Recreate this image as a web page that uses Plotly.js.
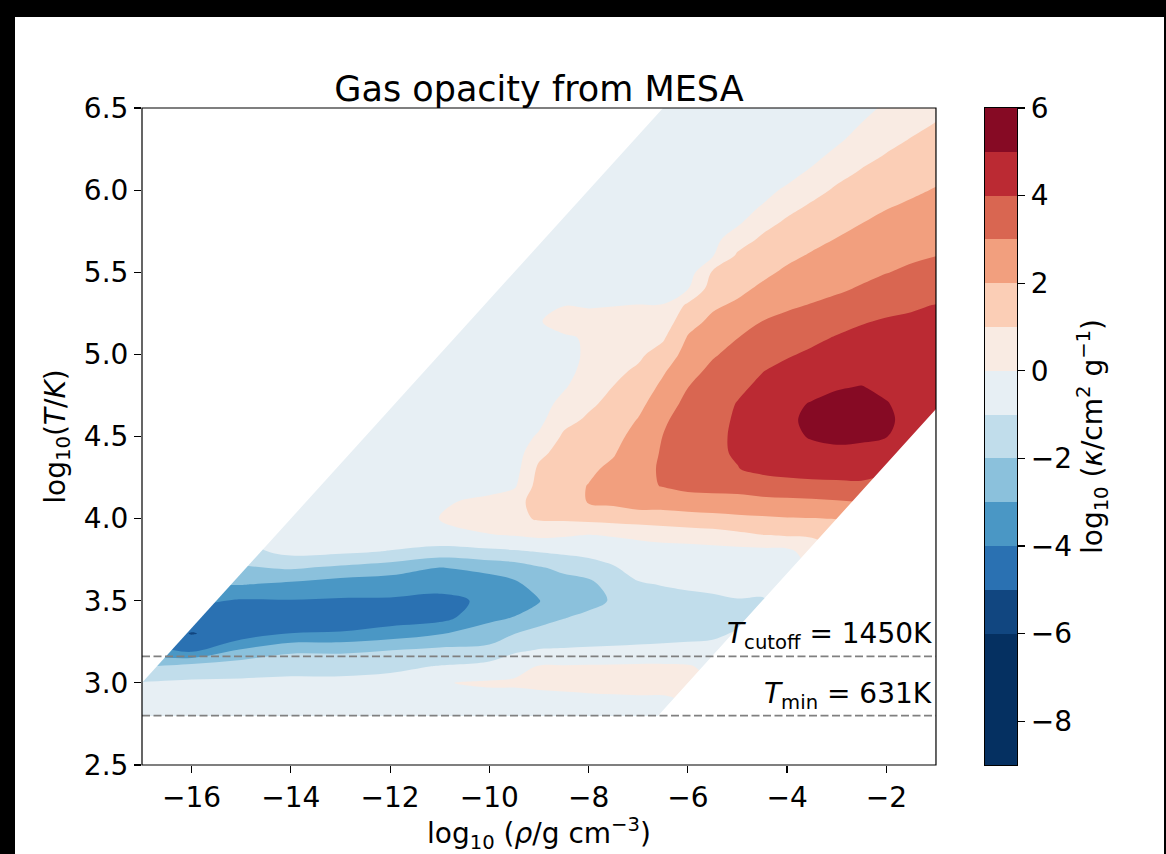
<!DOCTYPE html>
<html>
<head>
<meta charset="utf-8">
<script src="https://cdn.plot.ly/plotly-3.0.1.min.js"></script>
<style>
html,body{margin:0;padding:0;background:#000;width:1166px;height:854px;overflow:hidden;}
#plot{position:absolute;left:15px;top:17px;width:1149px;height:837px;background:#fff;}
</style>
</head>
<body>
<div id="plot"></div>
<script>
const gap = n => Array(n).fill(null);

// grid: log10(rho) columns and log10(T) rows
const LOG_RHO = [-17,-16,-15,-14,-13,-12,-11,-10,-9.5,-9,-8.5,-8,-7.5,-7,-6.5,-6,-5.5,-5,-4.5,-4,-3.5,-3,-2.5,-2,-1.5,-1];
const LOG_T = [2.8,2.9,3.0,3.1,3.2,3.3,3.4,3.5,3.6,3.7,3.8,3.9,4.0,4.1,4.2,4.3,4.4,4.5,4.6,4.7,
               4.8,4.9,5.0,5.1,5.2,5.3,5.4,5.5,5.6,5.7,5.8,5.9,6.0,6.1,6.2,6.3,6.4,6.5];

// log10(kappa) read along each log10(rho) column (bottom -> top), null = outside the table
const K_M17  = [-0.6,-0.7,-0.95, ...gap(35)];
const K_M16  = [-0.55,-0.65,-0.85,-1.6,-4.3,-5.05, ...gap(32)];
const K_M15  = [-0.5,-0.6,-0.85,-1.4,-2.9,-4.6,-4.7,-4.1,-2.95, ...gap(29)];
const K_M14  = [-0.5,-0.6,-0.8,-1.3,-2.2,-3.98,-4.6,-4.05,-3.2,-1.9,-0.7,-0.4,-0.3, ...gap(25)];
const K_M13  = [-0.5,-0.6,-0.8,-1.3,-2.2,-3.9,-4.7,-4.1,-3.5,-2.2,-0.8,-0.55,-0.5,-0.5,-0.5,-0.5, ...gap(22)];
const K_M12  = [-0.5,-0.55,-0.7,-1.2,-2.02,-3.5,-4.6,-4.1,-3.6,-2.5,-1.05,-0.4,-0.3,-0.35,-0.4,-0.45,-0.5,-0.5,-0.5, ...gap(19)];
const K_M11  = [-0.45,-0.4,-0.05,-0.95,-1.8,-3.05,-4.4,-4.3,-3.6,-3.05,-1.4,-0.2,0.02,-0.15,-0.3,-0.4,-0.45,-0.5,-0.5,-0.5,-0.5,-0.5,-0.5, ...gap(15)];
const K_M10  = [-0.4,-0.3,0.12,-0.7,-1.7,-2.6,-3.2,-3.8,-3.5,-2.7,-1.2,-0.05,0.55,0.3,-0.4,-0.5,-0.5,-0.5,-0.5,-0.5,-0.5,-0.5,-0.5,-0.5,-0.5,-0.5, ...gap(12)];
const K_M9_5 = [-0.38,-0.25,0.1,-0.25,-1.2,-2.02,-2.98,-3.35,-3.2,-2.5,-1.1,0.05,0.75,0.7,-0.15,-0.4,
                -0.5,-0.5,-0.5,-0.5,-0.5,-0.5,-0.5,-0.5,-0.5,-0.5,-0.5,-0.5, ...gap(10)];
const K_M9   = [-0.35,-0.2,0.15,0.05,-0.95,-1.7,-2.4,-3.05,-2.6,-2.1,-0.95,0.2,1.1,1.35,1.4,1.2,0.75,0.13,-0.25,-0.45,
                -0.5,-0.5,-0.45,-0.35,-0.05,-0.3,-0.45,-0.5,-0.5, ...gap(9)];
const K_M8_5 = [-0.32,-0.18,0.2,0.08,-0.92,-1.55,-2.05,-2.5,-2.35,-1.8,-0.8,0.1,1.15,1.6,1.7,1.6,1.4,1.15,0.72,0.32,
                -0.1,-0.3,-0.3,-0.1,0.3,-0.02,-0.35,-0.5,-0.5,-0.5,-0.5, ...gap(7)];
const K_M8   = [-0.3,-0.15,0.25,0.1,-0.9,-1.4,-1.8,-2.3,-2.2,-1.6,-0.6,-0.02,1.26,2.05,2.03,1.84,1.61,1.37,1.14,0.85,
                0.6,0.3,0.15,0.08,0.2,-0.05,-0.3,-0.45,-0.5,-0.5,-0.5,-0.5,-0.5, ...gap(5)];
const K_M7_5 = [-0.28,-0.12,0.28,0.12,-0.88,-1.35,-1.65,-1.9,-1.65,-1.1,-0.5,0.07,1.36,2.2,2.35,2.2,1.92,1.69,1.47,1.24,
                1.02,0.8,0.6,0.4,0.2,-0.02,-0.3,-0.45,-0.5,-0.5,-0.5,-0.5,-0.5,-0.5, ...gap(4)];
const K_M7   = [-0.25,-0.1,0.3,0.15,-0.85,-1.3,-1.5,-1.5,-1.1,-0.6,-0.35,0.16,1.47,2.45,2.75,2.75,2.6,2.35,2.05,1.74,
                1.43,1.13,0.84,0.56,0.28,0.01,-0.3,-0.45,-0.5,-0.5,-0.5,-0.5,-0.5,-0.5,-0.5,-0.5, ...gap(2)];
const K_M6_5 = [null,-0.1,0.3,0.15,-0.82,-1.25,-1.42,-1.38,-0.95,-0.55,-0.35,0.31,1.55,2.4,3.05,3.1,3.08,3.02,2.85,2.55,
                2.22,1.88,1.37,0.89,0.45,0.02,-0.3,-0.45,-0.5,-0.5,-0.5,-0.5,-0.5,-0.5,-0.5,-0.5,-0.5,-0.5];
const K_M6   = [null,null,0.25,0.1,-0.8,-1.2,-1.35,-1.25,-0.85,-0.55,-0.4,0.45,1.63,2.51,3.3,3.55,3.65,3.6,3.45,3.25,
                2.99,2.69,2.39,2.08,1.65,1.17,-0.05,-0.5,-0.5,-0.5,-0.5,-0.5,-0.5,-0.5,-0.5,-0.5,-0.5,-0.5];
const K_M5_5 = [null,null,null,null,-0.75,-1.15,-1.25,-1.15,-0.8,-0.5,-0.35,0.57,1.7,2.58,3.35,3.7,3.85,3.85,3.75,3.6,
                3.4,3.2,2.91,2.56,2.21,1.85,1.49,1.12,-0.05,-0.3,-0.4,-0.45,-0.5,-0.5,-0.5,-0.5,-0.5,-0.5];
const K_M5   = [...gap(6), -1.2,-1.05,-0.7,-0.45,-0.3,0.77,1.8,2.65,3.36,3.97,4.08,4.1,4.1,4.04,
                3.82,3.55,3.27,2.99,2.58,2.14,1.78,1.46,1.14,0.56,-0.15,-0.35,-0.45,-0.5,-0.5,-0.5,-0.5,-0.5];
const K_M4_5 = [...gap(7), -1.1,-0.65,-0.45,-0.28,0.98,1.87,2.71,3.58,4.2,4.38,4.5,4.5,4.38,
                4.2,3.97,3.65,3.33,3.01,2.58,2.16,1.8,1.48,1.16,0.68,0.05,-0.3,-0.4,-0.45,-0.5,-0.5,-0.5];
const K_M4   = [...gap(9), -0.45,-0.25,1.09,1.94,2.77,3.64,4.35,4.6,4.8,4.88,
                4.82,4.55,4.25,3.91,3.57,3.22,2.87,2.51,2.15,1.81,1.48,1.16,0.72,0.16,-0.3,-0.4,-0.45,-0.5,-0.5];
const K_M3_5 = [...gap(11), 1.1,1.97,2.8,3.73,4.4,4.75,5.07,5.15,5.05,
                4.75,4.45,4.15,3.81,3.42,3.04,2.72,2.41,2.09,1.77,1.45,1.13,0.7,0.2,-0.25,-0.4,-0.45,-0.5];
const K_M3   = [...gap(12), 2.02,2.9,3.75,4.45,4.85,5.15,5.3,5.2,
                4.95,4.66,4.37,4.07,3.67,3.23,2.87,2.59,2.31,2.03,1.73,1.43,1.13,0.75,0.31,-0.15,-0.35,-0.45];
const K_M2_5 = [...gap(14), 3.8,4.45,4.8,5.12,5.3,5.28,
                5.03,4.74,4.48,4.22,3.94,3.51,3.08,2.78,2.52,2.26,1.99,1.7,1.4,1.11,0.77,0.4,0.03,-0.3];
const K_M2   = [...gap(16), 4.6,5.02,5.12,5.04,
                4.84,4.65,4.46,4.27,4.08,3.76,3.35,2.97,2.71,2.46,2.21,1.95,1.66,1.37,1.08,0.78,0.47,0.16];
const K_M1_5 = [...gap(17), 4.7,4.78,4.75,
                4.65,4.55,4.45,4.3,4.13,3.9,3.53,3.16,2.86,2.62,2.37,2.12,1.87,1.6,1.33,1.06,0.79,0.52];
const K_M1   = [...gap(19), 4.55,
                4.5,4.45,4.4,4.3,4.15,4.02,3.68,3.34,2.99,2.76,2.52,2.29,2.05,1.8,1.54,1.29,1.04,0.8];

const COLUMNS = [K_M17,K_M16,K_M15,K_M14,K_M13,K_M12,K_M11,K_M10,K_M9_5,K_M9,K_M8_5,K_M8,K_M7_5,K_M7,
                 K_M6_5,K_M6,K_M5_5,K_M5,K_M4_5,K_M4,K_M3_5,K_M3,K_M2_5,K_M2,K_M1_5,K_M1];
const Z = LOG_T.map((_, i) => COLUMNS.map(col => col[i]));

// contour levels and band colours
const LEVELS = [-9,-8,-7,-6,-5,-4,-3,-2,-1,0,1,2,3,4,5,6];
const BAND_COLORS = ['#053061','#053061','#053061','#114680','#2a71b2','#4a97c5','#8bc1dc',
                     '#c1ddeb','#e7eff4','#f9ebe3','#fbceb6','#f29f7e','#d96651','#bb2a33','#860a24'];
const COLORSCALE = BAND_COLORS.map((c, i) => [i / (BAND_COLORS.length - 1), c]);
const MIDS = LEVELS.slice(0, -1).map((v, i) => (v + LEVELS[i + 1]) / 2);

// table limits and marked temperatures
const LOGR_MIN = -8, LOGR_MAX = 3;
const T_CUTOFF = 1450, T_MIN = 631;
const LOGT_MIN = Math.log10(T_MIN);
const rhoAt = (logR, logT) => logR + 3 * logT - 18;

const X_TICKS = [-16,-14,-12,-10,-8,-6,-4,-2];
const Y_TICKS = [2.5,3.0,3.5,4.0,4.5,5.0,5.5,6.0,6.5];
const CB_TICKS = [-8,-6,-4,-2,0,2,4,6];
const fmt = (v, d) => (v < 0 ? '\u2212' : '') + Math.abs(v).toFixed(d);

const XD = 0.9074, CB0 = 0.9634;
const FONT = 'DejaVu Sans';

const contour = {
  type: 'contour', x: LOG_RHO, y: LOG_T, z: Z,
  autocontour: false,
  contours: {start: LEVELS[1], end: LEVELS[LEVELS.length - 2], size: 1, coloring: 'fill', showlines: false},
  colorscale: COLORSCALE, showscale: false, connectgaps: true,
  line: {width: 0, smoothing: 1}, hoverinfo: 'skip', xaxis: 'x', yaxis: 'y'
};

const cbar = {
  type: 'heatmap', x: [0, 1], y: LEVELS, z: MIDS.map(v => [v]),
  colorscale: COLORSCALE, zmin: MIDS[0], zmax: MIDS[MIDS.length - 1],
  showscale: false, hoverinfo: 'skip', xaxis: 'x2', yaxis: 'y2'
};

const yL0 = 2.9, yTop = 6.8;
const maskUL = `M ${rhoAt(LOGR_MIN, yL0)} ${yL0} L ${rhoAt(LOGR_MIN, yTop)} ${yTop} L -18 ${yTop} L -18 ${yL0} Z`;
const maskLR = `M -18 ${LOGT_MIN} L ${rhoAt(LOGR_MAX, LOGT_MIN)} ${LOGT_MIN} L ${rhoAt(LOGR_MAX, 5.6)} 5.6 L 2 5.6 L 2 2.3 L -18 2.3 Z`;

const dashLine = yv => ({type: 'line', xref: 'x', yref: 'y', x0: -17, x1: -1, y0: yv, y1: yv,
  line: {color: '#808080', width: 1.8, dash: '8px,3.5px'}, layer: 'above'});

const layout = {
  width: 1149, height: 837,
  margin: {l: 127, r: 147, t: 91, b: 89},
  paper_bgcolor: '#fff', plot_bgcolor: '#fff',
  font: {family: FONT, color: '#000', size: 28},
  showlegend: false, hovermode: false,
  title: {text: 'Gas opacity from MESA', font: {family: FONT, size: 35, color: '#000'},
          x: XD / 2, xref: 'paper', xanchor: 'center', y: 1 - 71.5 / 837, yref: 'container', yanchor: 'middle'},
  xaxis: {domain: [0, XD], range: [-17, -1], anchor: 'y',
          tickvals: X_TICKS, ticktext: X_TICKS.map(v => fmt(v, 0)),
          ticks: 'outside', ticklen: 7, tickwidth: 1.2, tickcolor: '#000',
          showgrid: false, zeroline: false, showline: false,
          tickfont: {family: FONT, size: 28, color: '#000'},
          title: {text: 'log<sub>10</sub> (<i>ρ</i>/g cm<sup>−3</sup>)', font: {family: FONT, size: 28, color: '#000'}, standoff: 6}},
  yaxis: {domain: [0, 1], range: [2.5, 6.5], anchor: 'x',
          tickvals: Y_TICKS, ticktext: Y_TICKS.map(v => fmt(v, 1)),
          ticks: 'outside', ticklen: 7, tickwidth: 1.2, tickcolor: '#000',
          showgrid: false, zeroline: false, showline: false,
          tickfont: {family: FONT, size: 28, color: '#000'},
          title: {text: 'log<sub>10</sub>(<i>T</i>/<i>K</i>)', font: {family: FONT, size: 28, color: '#000'}, standoff: 10}},
  xaxis2: {domain: [CB0, 1], range: [0, 1], anchor: 'y2', showticklabels: false, ticks: '',
           showgrid: false, zeroline: false, showline: true, mirror: true, linecolor: '#000', linewidth: 1.2},
  yaxis2: {domain: [0, 1], range: [LEVELS[0], LEVELS[LEVELS.length - 1]], anchor: 'x2', side: 'right',
           tickvals: CB_TICKS, ticktext: CB_TICKS.map(v => fmt(v, 0)),
           ticks: 'outside', ticklen: 7, tickwidth: 1.2, tickcolor: '#000',
           showgrid: false, zeroline: false, showline: true, mirror: true, linecolor: '#000', linewidth: 1.2,
           tickfont: {family: FONT, size: 28, color: '#000'},
           title: {text: 'log<sub>10</sub> (<i>κ</i>/cm<sup>2</sup> g<sup>−1</sup>)', font: {family: FONT, size: 28, color: '#000'}, standoff: 10}},
  shapes: [
    {type: 'path', path: maskUL, xref: 'x', yref: 'y', fillcolor: '#fff', line: {width: 0}, layer: 'above'},
    {type: 'path', path: maskLR, xref: 'x', yref: 'y', fillcolor: '#fff', line: {width: 0}, layer: 'above'},
    dashLine(Math.log10(T_CUTOFF)),
    dashLine(LOGT_MIN),
    {type: 'rect', xref: 'paper', yref: 'paper', x0: 0, x1: XD, y0: 0, y1: 1,
     line: {color: '#000', width: 1.2}, fillcolor: 'rgba(0,0,0,0)', layer: 'above'}
  ],
  annotations: [
    {xref: 'x', yref: 'y', x: -1, y: Math.log10(T_CUTOFF), xanchor: 'right', yanchor: 'bottom', xshift: -2,
     text: '<i>T</i><sub>cutoff</sub> = ' + T_CUTOFF + 'K', showarrow: false, font: {family: FONT, size: 28, color: '#000'}},
    {xref: 'x', yref: 'y', x: -1, y: LOGT_MIN, xanchor: 'right', yanchor: 'bottom', xshift: -2,
     text: '<i>T</i><sub>min</sub> = ' + T_MIN + 'K', showarrow: false, font: {family: FONT, size: 28, color: '#000'}}
  ]
};

Plotly.newPlot('plot', [contour, cbar], layout, {staticPlot: true, displayModeBar: false});
</script>
</body>
</html>
